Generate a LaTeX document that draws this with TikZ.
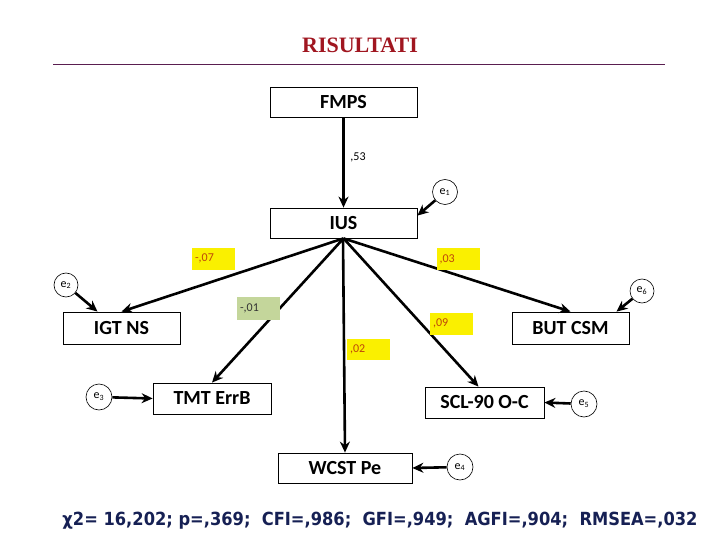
\documentclass[tikz,border=0pt]{standalone}
\usepackage{fontspec}
\setmainfont{Carlito}
\newfontfamily\titlefont{Liberation Serif}
\newfontfamily\statfont{DejaVu Sans Condensed}
\usetikzlibrary{arrows.meta}
\definecolor{titlered}{RGB}{160,22,32}
\definecolor{rulepurple}{RGB}{90,30,80}
\definecolor{lblyellow}{RGB}{250,240,0}
\definecolor{lblgreen}{RGB}{196,214,155}
\definecolor{lbltext}{RGB}{190,70,10}
\definecolor{statnavy}{RGB}{22,32,84}
\tikzset{
  varbox/.style={draw, line width=0.8pt, font=\fontsize{20}{22}\selectfont\bfseries, inner sep=0pt},
  errc/.style={draw, circle, line width=0.6pt, minimum size=#1, inner sep=0pt, font=\fontsize{12}{13}\selectfont},
  path/.style={line width=2.6pt, -{Stealth[length=11pt,width=10pt]}},
  ylab/.style={fill=lblyellow, text=lbltext, minimum width=43pt, minimum height=22pt, inner sep=0pt, font=\fontsize{12}{13}\selectfont, align=left, text width=37pt},
  glab/.style={fill=lblgreen, text=black!80, minimum width=43pt, minimum height=23pt, inner sep=0pt, font=\fontsize{12}{13}\selectfont, align=left, text width=37pt}
}
\begin{document}
\begin{tikzpicture}[x=1pt,y=-1pt]
\useasboundingbox (0,0) rectangle (720,540);
% title
\node[font=\titlefont\fontsize{22}{24}\selectfont\bfseries, text=titlered] (title) at (360,45) {RISULTATI};
\draw[rulepurple, line width=1pt] (53,65) -- (665,65);
% boxes
\node[varbox, minimum width=147pt, minimum height=30pt] (fmps) at (343.5,102) {FMPS};
\node[varbox, minimum width=147pt, minimum height=30pt] (ius) at (343.5,223) {IUS};
\node[varbox, minimum width=117pt, minimum height=32pt] (igt) at (121.5,328) {IGT NS};
\node[varbox, minimum width=117pt, minimum height=32pt] (but) at (570.5,328) {BUT CSM};
\node[varbox, minimum width=118pt, minimum height=31pt] (tmt) at (212,398.5) {TMT ErrB};
\node[varbox, minimum width=119pt, minimum height=31pt] (scl) at (484.5,402.5) {SCL-90 O-C};
\node[varbox, minimum width=134pt, minimum height=30pt] (wcst) at (345,468) {WCST Pe};
% error circles
\node[errc=25pt] (e1) at (445,192) {e\textsubscript{1}};
\node[errc=24pt] (e2) at (66,285) {e\textsubscript{2}};
\node[errc=24pt] (e6) at (642,291) {e\textsubscript{6}};
\node[errc=26pt] (e3) at (99,397) {e\textsubscript{3}};
\node[errc=26pt] (e5) at (584,404) {e\textsubscript{5}};
\node[errc=26pt] (e4) at (460,467) {e\textsubscript{4}};
% paths
\draw[path] (fmps.south) -- (ius.north);
\draw[path] (ius.south) -- (igt.north);
\draw[path] (ius.south) -- (but.north);
\draw[path] (ius.south) -- (tmt.north);
\draw[path] (ius.south) -- ([xshift=-6pt]scl.north);
\draw[path] ([xshift=-0.5pt]ius.south) -- (wcst.north);
\draw[path] (e1) -- ([yshift=-8pt]ius.north east);
\draw[path] (e2) -- ([xshift=-24pt]igt.north);
\draw[path] (e6) -- ([xshift=46pt]but.north);
\draw[path] (e3) -- (tmt.west);
\draw[path] (e5) -- (scl.east);
\draw[path] (e4) -- (wcst.east);
% labels
\node[font=\fontsize{12}{13}\selectfont] (l53) at (358,157) {,53};
\node[ylab] (l07) at (213.5,258.5) {-,07};
\node[ylab] (l03) at (458,259) {,03};
\node[ylab] (l09) at (451.5,323.5) {,09};
\node[ylab, minimum height=21pt] (l02) at (368.5,349.5) {,02};
\node[glab] (l01) at (258.5,308.5) {-,01};
% fit statistics
\node[text=statnavy] (stats) at (380,521) {\resizebox{635pt}{!}{\statfont\bfseries χ2= 16,202; p=,369;\ \ CFI=,986;\ \ GFI=,949;\ \ AGFI=,904;\ \ RMSEA=,032}};
\end{tikzpicture}
\end{document}
